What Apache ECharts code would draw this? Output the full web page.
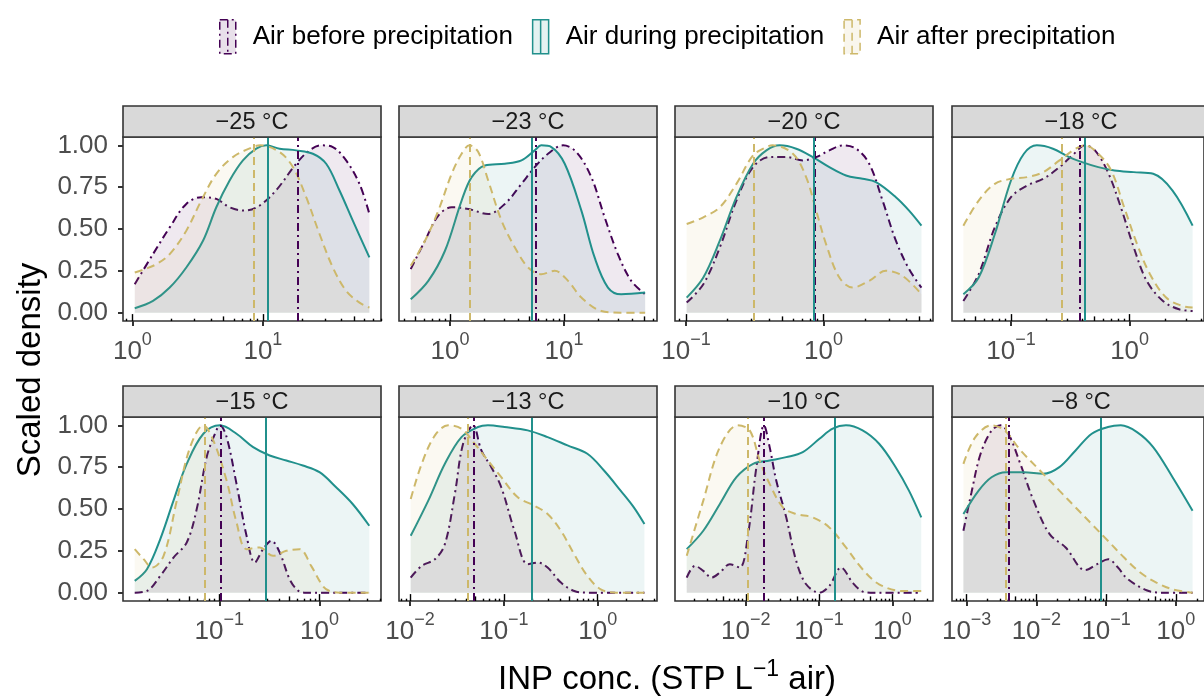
<!DOCTYPE html>
<html>
<head>
<meta charset="utf-8">
<script src="https://cdn.jsdelivr.net/npm/echarts@6/dist/echarts.min.js"></script>
<style>
  html, body { margin: 0; background: #fff; }
  #chart { width: 1204px; height: 697px; }
</style>
</head>
<body>
<div id="chart"></div>
<script>
// facet labels, groups and axis ticks (x in log10 units)
const panelNames = ['−25 °C', '−23 °C', '−20 °C', '−18 °C', '−15 °C', '−13 °C', '−10 °C', '−8 °C'];
const groups = ['Air before precipitation', 'Air during precipitation', 'Air after precipitation'];
const xLimits = [[-0.072, 1.905], [-0.447, 1.815], [-1.08, 0.797], [-1.497, 0.627],
                 [-1.961, 0.614], [-2.118, 0.632], [-2.965, 0.554], [-3.21, 0.404]];
const xTicks = [[0, 1], [0, 1], [-1, 0], [-1, 0], [-1, 0], [-2, -1, 0], [-2, -1, 0], [-3, -2, -1, 0]];
const yTicks = [0, 0.25, 0.5, 0.75, 1];

// scaled density curves, [log10 conc, density]
const before = [
  [[0.018,0.17],[0.158,0.35],[0.286,0.51],[0.413,0.65],[0.528,0.69],[0.643,0.68],[0.745,0.63],[0.86,0.61],[0.974,0.64],[1.10,0.73],[1.255,0.89],[1.357,0.97],[1.446,1.0],[1.536,0.99],[1.638,0.91],[1.74,0.77],[1.816,0.59]],
  [[-0.344,0.26],[-0.219,0.43],[-0.102,0.58],[0.015,0.63],[0.16,0.62],[0.335,0.59],[0.481,0.65],[0.627,0.77],[0.743,0.87],[0.86,0.95],[0.991,1.0],[1.108,0.96],[1.239,0.81],[1.356,0.57],[1.472,0.35],[1.589,0.19],[1.711,0.11]],
  [[-0.995,0.06],[-0.874,0.17],[-0.754,0.39],[-0.633,0.67],[-0.512,0.87],[-0.391,0.93],[-0.27,0.93],[-0.15,0.91],[-0.053,0.93],[0.043,0.97],[0.14,1.0],[0.237,0.98],[0.333,0.89],[0.43,0.67],[0.527,0.43],[0.623,0.26],[0.713,0.15]],
  [[-1.401,0.07],[-1.272,0.23],[-1.136,0.51],[-1.0,0.69],[-0.864,0.76],[-0.728,0.80],[-0.591,0.87],[-0.482,0.94],[-0.373,1.0],[-0.292,0.97],[-0.183,0.84],[-0.074,0.63],[0.035,0.39],[0.144,0.19],[0.281,0.07],[0.417,0.02],[0.531,0.01]],
  [[-1.844,0.0],[-1.722,0.01],[-1.589,0.10],[-1.457,0.21],[-1.325,0.30],[-1.225,0.50],[-1.126,0.81],[-1.043,0.95],[-0.993,1.0],[-0.927,0.93],[-0.828,0.65],[-0.728,0.34],[-0.646,0.18],[-0.563,0.26],[-0.48,0.31],[-0.397,0.24],[-0.298,0.08],[-0.22,0.015],[-0.15,0.0],[0.497,0.0]],
  [[-1.993,0.09],[-1.876,0.16],[-1.735,0.20],[-1.629,0.29],[-1.523,0.59],[-1.435,0.89],[-1.329,1.0],[-1.24,0.85],[-1.134,0.75],[-1.028,0.63],[-0.887,0.37],[-0.746,0.17],[-0.64,0.18],[-0.534,0.15],[-0.392,0.06],[-0.25,0.01],[-0.1,0.0],[0.498,0.0]],
  [[-2.805,0.09],[-2.692,0.16],[-2.579,0.13],[-2.466,0.09],[-2.353,0.12],[-2.217,0.17],[-2.081,0.15],[-1.968,0.35],[-1.855,0.75],[-1.751,1.0],[-1.674,0.87],[-1.584,0.67],[-1.448,0.45],[-1.312,0.19],[-1.176,0.05],[-0.995,0.0],[-0.86,0.04],[-0.701,0.15],[-0.543,0.06],[-0.42,0.01],[-0.3,0.0],[0.394,0.0]],
  [[-3.046,0.37],[-2.93,0.6],[-2.80,0.83],[-2.64,0.97],[-2.51,1.0],[-2.40,0.95],[-2.23,0.77],[-2.04,0.55],[-1.81,0.35],[-1.58,0.27],[-1.30,0.135],[-1.13,0.17],[-0.97,0.20],[-0.83,0.15],[-0.70,0.085],[-0.42,0.014],[-0.2,0.0],[0.24,0.0]]
];
const during = [
  [[0.018,0.026],[0.158,0.07],[0.286,0.15],[0.413,0.27],[0.541,0.43],[0.643,0.63],[0.745,0.79],[0.847,0.91],[0.949,0.98],[1.026,1.0],[1.128,0.98],[1.255,0.97],[1.383,0.95],[1.485,0.89],[1.587,0.73],[1.689,0.55],[1.816,0.33]],
  [[-0.344,0.08],[-0.19,0.19],[-0.044,0.37],[0.102,0.67],[0.19,0.81],[0.306,0.88],[0.481,0.89],[0.627,0.91],[0.743,0.97],[0.80,1.0],[0.889,0.99],[1.006,0.89],[1.152,0.61],[1.268,0.33],[1.385,0.15],[1.501,0.11],[1.711,0.12]],
  [[-0.995,0.09],[-0.874,0.21],[-0.754,0.43],[-0.633,0.69],[-0.512,0.89],[-0.415,0.97],[-0.319,1.0],[-0.198,0.98],[-0.077,0.93],[0.043,0.87],[0.164,0.82],[0.285,0.80],[0.382,0.78],[0.527,0.69],[0.623,0.61],[0.713,0.52]],
  [[-1.401,0.11],[-1.272,0.21],[-1.136,0.47],[-1.0,0.79],[-0.891,0.95],[-0.782,1.0],[-0.646,0.98],[-0.51,0.93],[-0.401,0.90],[-0.264,0.87],[-0.128,0.85],[0.035,0.84],[0.199,0.83],[0.362,0.73],[0.531,0.52]],
  [[-1.844,0.07],[-1.722,0.14],[-1.589,0.32],[-1.457,0.55],[-1.325,0.77],[-1.159,0.95],[-0.993,1.0],[-0.828,0.95],[-0.662,0.87],[-0.497,0.82],[-0.331,0.79],[-0.166,0.76],[0.0,0.72],[0.166,0.63],[0.331,0.53],[0.497,0.40]],
  [[-1.993,0.34],[-1.806,0.55],[-1.629,0.77],[-1.452,0.93],[-1.276,0.99],[-1.17,1.0],[-0.993,0.99],[-0.746,0.97],[-0.534,0.93],[-0.322,0.88],[-0.11,0.83],[0.067,0.73],[0.244,0.61],[0.385,0.51],[0.498,0.41]],
  [[-2.805,0.26],[-2.579,0.37],[-2.353,0.53],[-2.127,0.69],[-1.90,0.77],[-1.674,0.79],[-1.448,0.81],[-1.222,0.84],[-0.995,0.92],[-0.814,0.98],[-0.633,1.0],[-0.407,0.97],[-0.181,0.89],[0.045,0.75],[0.226,0.61],[0.394,0.45]],
  [[-3.046,0.47],[-2.828,0.61],[-2.643,0.69],[-2.434,0.72],[-2.179,0.72],[-1.901,0.71],[-1.67,0.75],[-1.438,0.85],[-1.206,0.95],[-0.974,0.99],[-0.789,1.0],[-0.557,0.96],[-0.325,0.87],[-0.047,0.69],[0.24,0.49]]
];
const after = [
  [[0.018,0.24],[0.094,0.26],[0.184,0.29],[0.286,0.35],[0.413,0.49],[0.528,0.67],[0.643,0.83],[0.77,0.93],[0.923,0.99],[0.98,1.0],[1.128,0.96],[1.23,0.87],[1.332,0.69],[1.434,0.47],[1.536,0.27],[1.638,0.13],[1.74,0.06],[1.816,0.03]],
  [[-0.344,0.28],[-0.219,0.43],[-0.102,0.61],[0.015,0.83],[0.102,0.95],[0.172,1.0],[0.248,0.96],[0.335,0.79],[0.452,0.55],[0.569,0.39],[0.685,0.27],[0.80,0.23],[0.918,0.25],[1.035,0.19],[1.152,0.09],[1.327,0.01],[1.5,0.0],[1.711,0.0]],
  [[-0.995,0.53],[-0.874,0.57],[-0.754,0.63],[-0.633,0.77],[-0.512,0.94],[-0.415,0.99],[-0.37,1.0],[-0.222,0.95],[-0.126,0.81],[-0.053,0.61],[0.019,0.41],[0.116,0.21],[0.213,0.15],[0.333,0.19],[0.454,0.25],[0.575,0.22],[0.713,0.11]],
  [[-1.401,0.52],[-1.272,0.67],[-1.136,0.77],[-1.0,0.80],[-0.864,0.81],[-0.728,0.84],[-0.591,0.91],[-0.455,0.98],[-0.373,1.0],[-0.264,0.95],[-0.155,0.85],[-0.046,0.63],[0.063,0.41],[0.172,0.23],[0.308,0.09],[0.444,0.04],[0.531,0.03]],
  [[-1.844,0.26],[-1.755,0.20],[-1.672,0.15],[-1.556,0.22],[-1.424,0.55],[-1.291,0.87],[-1.159,1.0],[-1.06,0.91],[-0.927,0.67],[-0.828,0.42],[-0.728,0.26],[-0.596,0.27],[-0.464,0.22],[-0.331,0.25],[-0.199,0.26],[-0.083,0.16],[0.033,0.04],[0.1,0.01],[0.2,0.0],[0.497,0.0]],
  [[-1.993,0.56],[-1.876,0.77],[-1.735,0.94],[-1.594,1.0],[-1.452,0.98],[-1.311,0.89],[-1.17,0.79],[-1.028,0.69],[-0.852,0.57],[-0.675,0.52],[-0.534,0.47],[-0.392,0.37],[-0.251,0.23],[-0.11,0.10],[0.032,0.02],[0.2,0.0],[0.498,0.0]],
  [[-2.805,0.22],[-2.579,0.55],[-2.353,0.87],[-2.11,1.0],[-1.946,0.97],[-1.81,0.79],[-1.674,0.65],[-1.493,0.51],[-1.312,0.47],[-1.086,0.45],[-0.86,0.39],[-0.633,0.27],[-0.407,0.14],[-0.181,0.05],[0.136,0.01],[0.394,0.01]],
  [[-3.046,0.77],[-2.875,0.93],[-2.643,1.0],[-2.458,0.97],[-2.226,0.85],[-1.948,0.73],[-1.67,0.61],[-1.438,0.51],[-1.206,0.41],[-0.974,0.31],[-0.742,0.21],[-0.51,0.12],[-0.279,0.06],[-0.047,0.02],[0.24,0.0]]
];
// medians (vertical lines), log10 conc
const medBefore = [1.273, 0.750, -0.06, -0.417, -0.993, -1.317, -1.746, -2.388];
const medDuring = [1.043, 0.723, -0.072, -0.384, -0.536, -0.696, -0.79, -1.075];
const medAfter = [0.928, 0.172, -0.514, -0.570, -1.149, -1.39, -1.973, -2.444];

const curves = [before, during, after];
const medians = [medBefore, medDuring, medAfter];
const colors = ['#440154', '#21908C', '#CDB86A'];
const fills = ['rgba(68,1,84,0.12)', 'rgba(33,144,140,0.12)', 'rgba(205,184,106,0.12)'];
const dashes = [[8, 4, 2, 4], 'solid', [8, 5]];

const font = '"Liberation Sans", Arial, sans-serif';
const colLeft = [123, 399, 675, 952];
const rowTop = [137, 417];
const panelW = 258, panelH = 184, stripH = 31;

const supText = n => (n < 0 ? '−' + (-n) : String(n));

function minorTicks(lim, keep) {
  const out = [];
  for (let n = Math.floor(lim[0]); n <= Math.ceil(lim[1]); n++) {
    for (let k = 2; k <= 9; k++) {
      const v = n + Math.log10(k);
      if (v >= lim[0] && v <= lim[1] && keep(k)) out.push(v);
    }
  }
  return out;
}

const grid = [], xAxis = [], yAxis = [], series = [], graphic = [];

panelNames.forEach((name, p) => {
  const col = p % 4, row = Math.floor(p / 4);
  const left = colLeft[col], top = rowTop[row];
  grid.push({
    left: left, top: top, width: panelW, height: panelH,
    show: true, backgroundColor: '#fff', borderColor: '#333', borderWidth: 1.6
  });
  const lim = xLimits[p];
  const base = { type: 'value', gridIndex: p, min: lim[0], max: lim[1], position: 'bottom',
    axisLine: { show: false, onZero: false }, splitLine: { show: false } };
  // main ticks and labels
  xAxis.push(Object.assign({}, base, {
    axisTick: { show: true, length: 5, customValues: xTicks[p], lineStyle: { color: '#333', width: 2 } },
    axisLabel: {
      show: true, margin: 10, customValues: xTicks[p],
      formatter: v => '{b|10}{s|' + supText(Math.round(v)) + '}',
      rich: {
        b: { fontSize: 26, lineHeight: 41, color: '#4D4D4D', fontFamily: font },
        s: { fontSize: 18, verticalAlign: 'top', color: '#4D4D4D', fontFamily: font }
      }
    }
  }));
  // log ticks inside the panel
  const inner = [
    [minorTicks(lim, k => k !== 5), 2.3],
    [minorTicks(lim, k => k === 5), 4.6],
    [xTicks[p], 6.9]
  ];
  inner.forEach(([vals, len]) => {
    xAxis.push(Object.assign({}, base, {
      axisLabel: { show: false },
      axisTick: { show: true, inside: true, length: len, customValues: vals, lineStyle: { color: '#000', width: 1.4 } }
    }));
  });
  const showY = col === 0;
  yAxis.push({
    type: 'value', gridIndex: p, min: -0.05, max: 1.05, position: 'left',
    axisLine: { show: false, onZero: false }, splitLine: { show: false },
    axisTick: { show: showY, length: 5, customValues: yTicks, lineStyle: { color: '#333', width: 2 } },
    axisLabel: { show: showY, customValues: yTicks, margin: 15, fontSize: 26, color: '#4D4D4D', fontFamily: font,
      formatter: v => v.toFixed(2) }
  });

  groups.forEach((g, i) => {
    series.push({
      name: g, type: 'line', xAxisIndex: p * 4, yAxisIndex: p,
      data: curves[i][p], smooth: 0.35, symbol: 'none', z: 2 + i,
      lineStyle: { color: colors[i], width: 2, type: dashes[i] },
      itemStyle: { color: colors[i] },
      areaStyle: { color: fills[i], origin: 0 },
      emphasis: { disabled: true },
      markLine: {
        silent: true, symbol: ['none', 'none'], label: { show: false },
        lineStyle: { color: colors[i], width: 2, type: dashes[i] },
        emphasis: { disabled: true },
        data: [{ xAxis: medians[i][p] }]
      }
    });
  });

  // facet strip
  const stripTop = top - stripH;
  graphic.push({
    type: 'rect', shape: { x: left, y: stripTop, width: panelW, height: stripH },
    style: { fill: '#D9D9D9', stroke: '#333', lineWidth: 1.6 }, z: 10
  });
  graphic.push({
    type: 'text', x: left + panelW / 2, y: stripTop + stripH / 2 + 1, z: 11,
    style: { text: name, fontSize: 23.5, fontFamily: font, fill: '#1A1A1A',
      align: 'center', verticalAlign: 'middle', textAlign: 'center', textVerticalAlign: 'middle' }
  });
});

graphic.push({
  type: 'text', x: 31, y: 370, rotation: Math.PI / 2,
  style: { text: 'Scaled density', fontSize: 33, fontFamily: font, fill: '#000',
    align: 'center', verticalAlign: 'middle', textAlign: 'center', textVerticalAlign: 'middle' }
});
graphic.push({
  type: 'text', x: 667, y: 680,
  style: {
    text: 'INP conc. (STP L{s|−1} air)', fontSize: 33, fontFamily: font, fill: '#000', lineHeight: 44,
    align: 'center', verticalAlign: 'middle', textAlign: 'center', textVerticalAlign: 'middle',
    rich: { s: { fontSize: 23, fontFamily: font, fill: '#000', verticalAlign: 'top' } }
  }
});

const chart = echarts.init(document.getElementById('chart'), null, { renderer: 'canvas' });
chart.setOption({
  animation: false,
  backgroundColor: '#fff',
  legend: {
    top: 14, left: 214, itemWidth: 16, itemHeight: 34, itemGap: 19,
    textStyle: { fontSize: 26, color: '#000', fontFamily: font, padding: [0, 0, 0, 12] },
    data: groups.map((g, i) => ({
      name: g, icon: 'path://M0,0H16V34H0ZM8,0V34',
      itemStyle: { color: fills[i], borderColor: colors[i], borderWidth: 1.5, borderType: dashes[i] }
    })),
    selectedMode: false
  },
  grid: grid,
  xAxis: xAxis,
  yAxis: yAxis,
  series: series,
  graphic: graphic
});
</script>
</body>
</html>
